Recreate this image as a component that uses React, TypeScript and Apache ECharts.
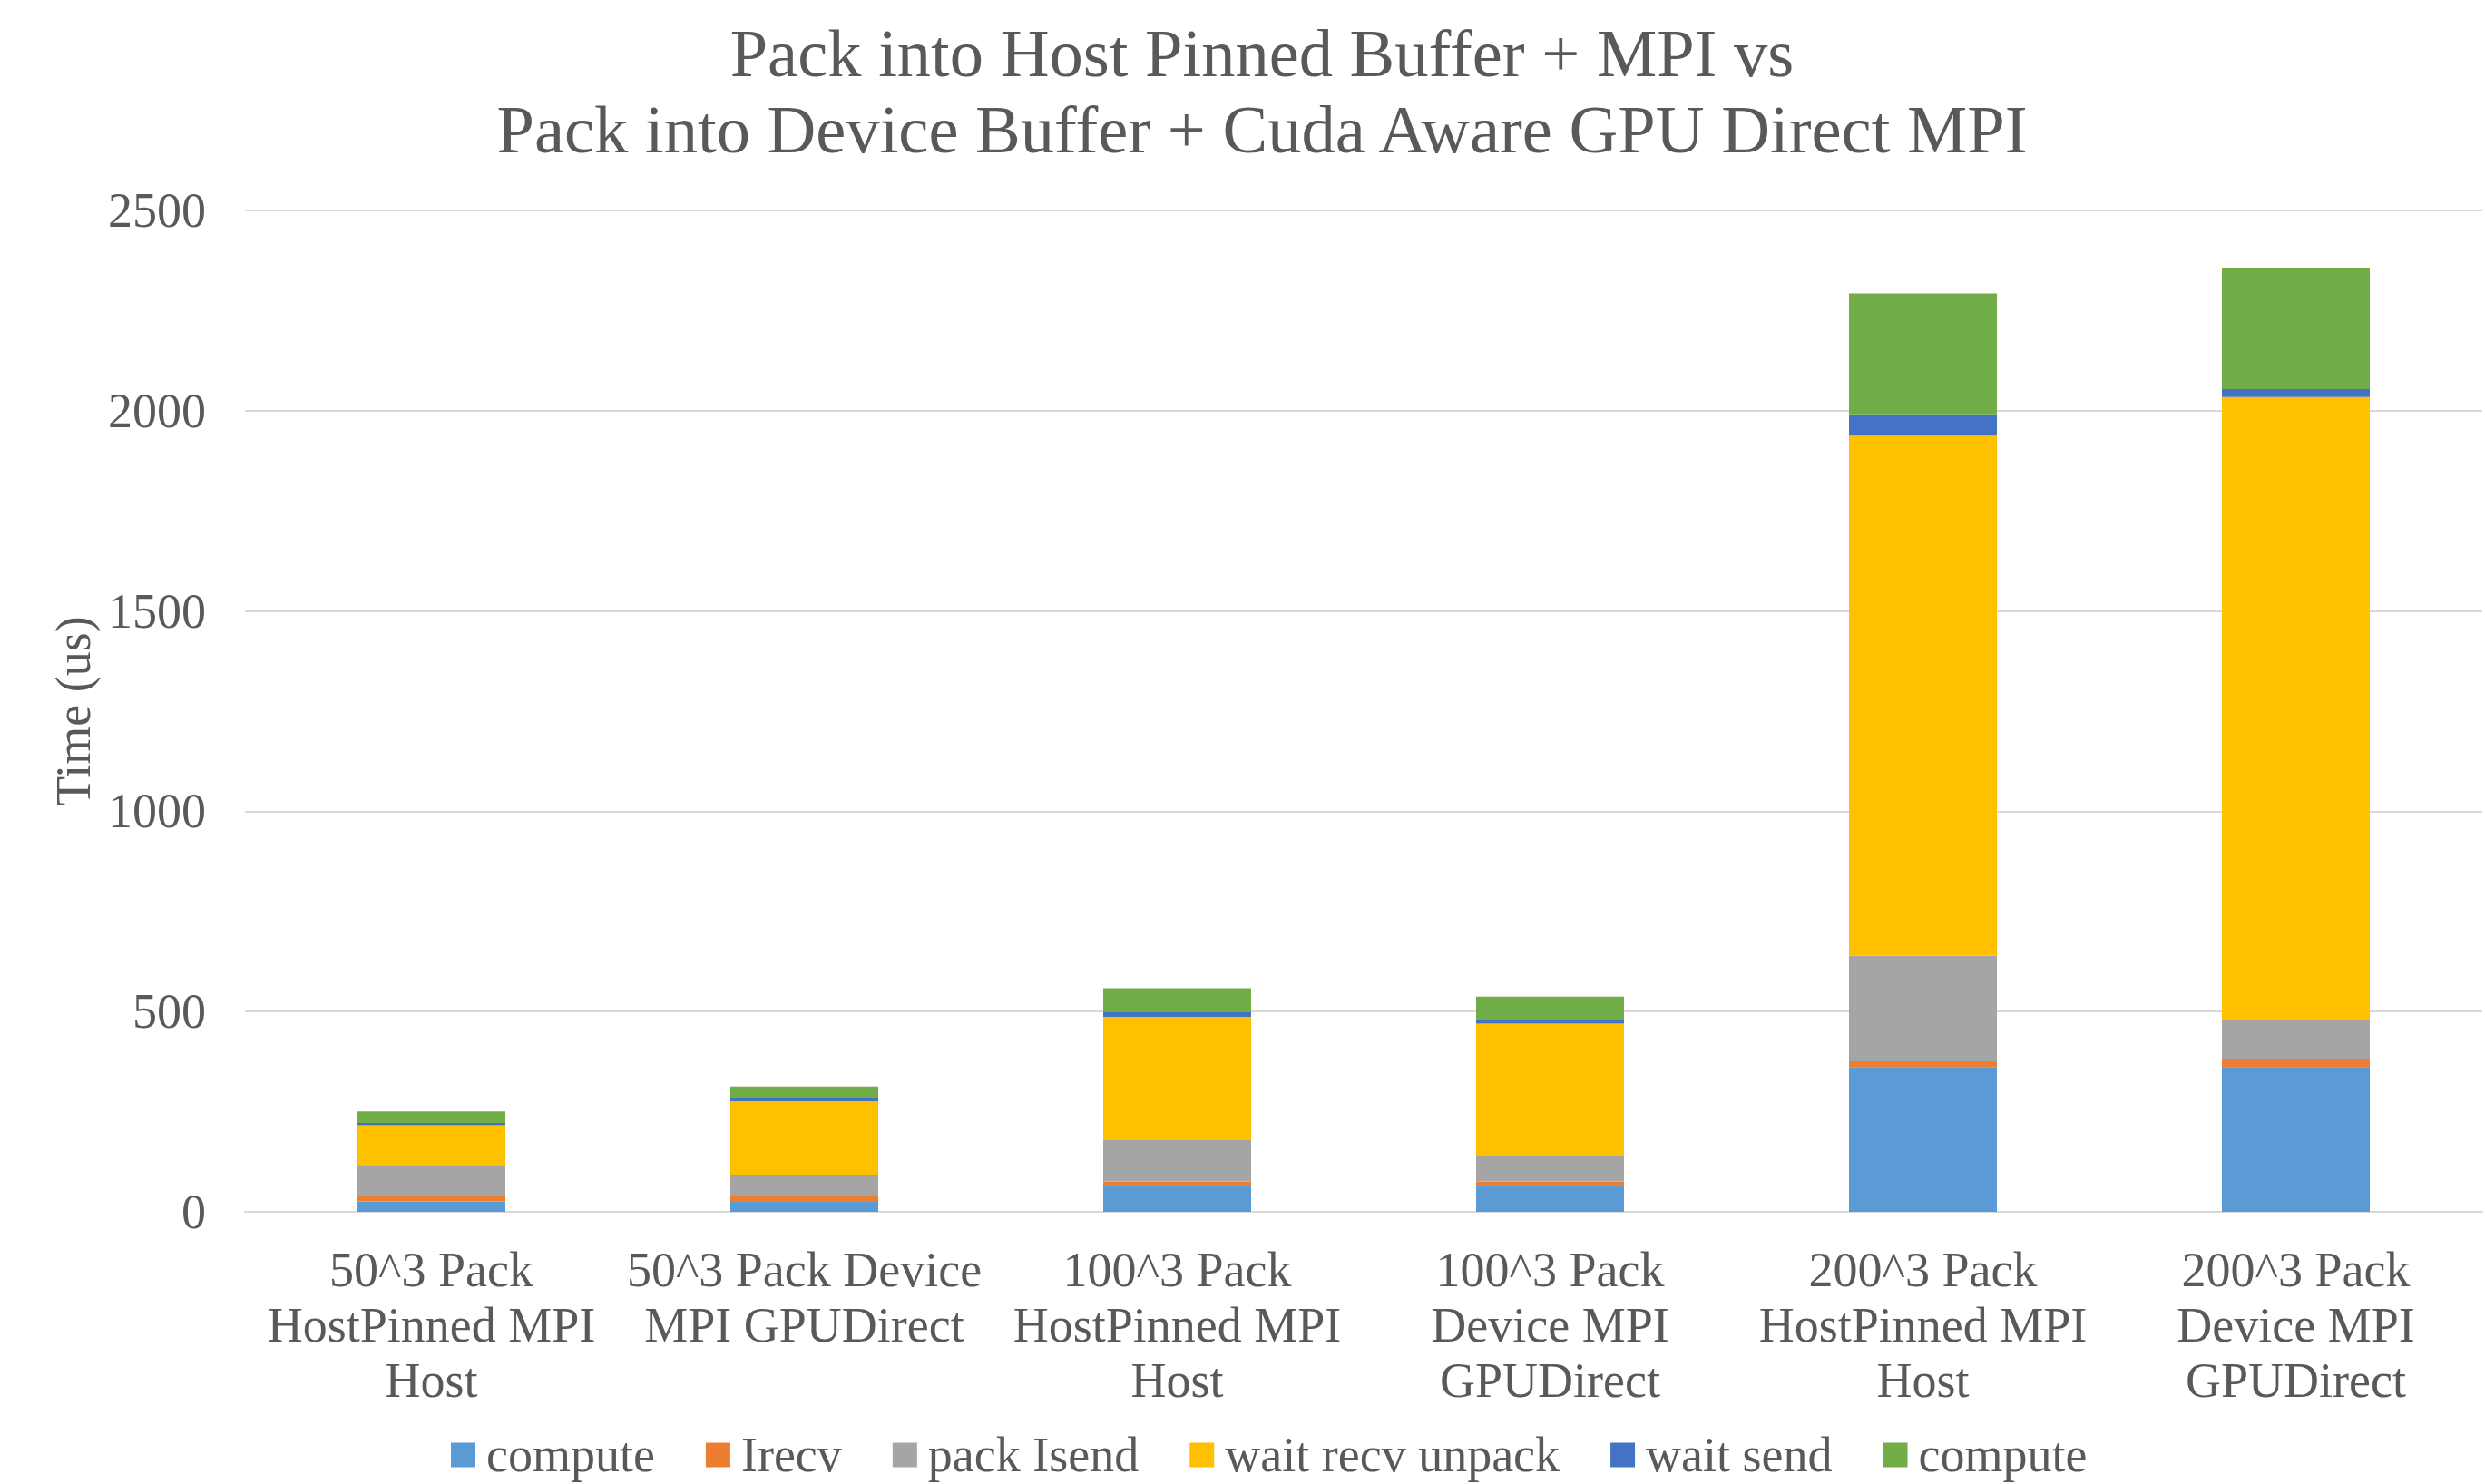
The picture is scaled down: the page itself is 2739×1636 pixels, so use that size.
import React, { useEffect, useRef } from "react";
import * as echarts from "echarts";

const categories = [
  "50^3 Pack\nHostPinned MPI\nHost",
  "50^3 Pack Device\nMPI GPUDirect",
  "100^3 Pack\nHostPinned MPI\nHost",
  "100^3 Pack\nDevice MPI\nGPUDirect",
  "200^3 Pack\nHostPinned MPI\nHost",
  "200^3 Pack\nDevice MPI\nGPUDirect",
];

const seriesNames = ["compute", "Irecv", "pack Isend", "wait recv unpack", "wait send", "compute "];
const computeA = [26, 25, 64, 64, 362, 362];
const irecv = [14, 14, 12, 12, 14, 20];
const packIsend = [77, 54, 103, 66, 263, 97];
const waitRecvUnpack = [99, 183, 308, 328, 1299, 1555];
const waitSend = [6, 8, 11, 9, 53, 20];
const computeB = [29, 29, 60, 58, 302, 302];

const yTicks = { min: 0, max: 2500, interval: 500 };
const titleLines = [
  "Pack into Host Pinned Buffer + MPI vs",
  "Pack into Device Buffer + Cuda Aware GPU Direct MPI",
];

const colors = ["#5B9BD5", "#ED7D31", "#A5A5A5", "#FFC000", "#4472C4", "#70AD47"];
const FONT = "'Liberation Serif', 'Times New Roman', serif";
const TXT = "#595959";
const FS = 54;

export default function App() {
  const ref = useRef<HTMLDivElement>(null);
  useEffect(() => {
    document.body.style.margin = "0";
    if (!ref.current) return;
    const chart = echarts.init(ref.current, undefined, { renderer: "svg" });
    const values = [computeA, irecv, packIsend, waitRecvUnpack, waitSend, computeB];
    chart.setOption({
      animation: false,
      backgroundColor: "#ffffff",
      color: colors,
      graphic: [
        {
          type: "text",
          x: 1391,
          y: 17,
          style: {
            text: titleLines.join("\n"),
            fontFamily: FONT,
            fontSize: 74.5,
            fontWeight: "normal",
            fill: TXT,
            lineHeight: 84,
            align: "center",
            verticalAlign: "top",
          },
        },
      ],
      legend: {
        bottom: 0,
        left: 492,
        itemWidth: 27,
        itemHeight: 27,
        itemGap: 56,
        icon: "rect",
        data: seriesNames,
        textStyle: {
          fontFamily: FONT,
          fontSize: FS,
          color: TXT,
          padding: [0, 0, 0, 7],
        },
      },
      grid: { left: 270, right: 3, top: 232, bottom: 300, containLabel: false },
      xAxis: {
        type: "category",
        data: categories,
        axisLine: { lineStyle: { color: "#D9D9D9", width: 2 } },
        axisTick: { show: false },
        axisLabel: {
          fontFamily: FONT,
          fontSize: FS,
          color: TXT,
          lineHeight: 61,
          margin: 33,
          interval: 0,
        },
      },
      yAxis: {
        type: "value",
        min: yTicks.min,
        max: yTicks.max,
        interval: yTicks.interval,
        name: "Time (us)",
        nameLocation: "middle",
        nameGap: 162,
        nameTextStyle: { fontFamily: FONT, fontSize: FS, color: TXT },
        axisLine: { show: false },
        axisTick: { show: false },
        splitLine: { lineStyle: { color: "#D9D9D9", width: 2 } },
        axisLabel: {
          fontFamily: FONT,
          fontSize: FS,
          color: TXT,
          margin: 43,
          formatter: (v: number) => String(v),
        },
      },
      series: seriesNames.map((name, i) => ({
        name,
        type: "bar",
        stack: "total",
        barWidth: 163,
        data: values[i],
        itemStyle: { color: colors[i] },
      })),
    });
    return () => chart.dispose();
  }, []);
  return <div ref={ref} style={{ width: 2739, height: 1636 }} />;
}
